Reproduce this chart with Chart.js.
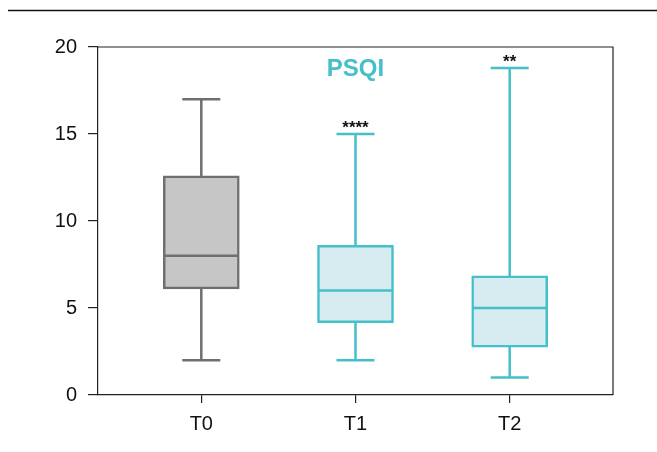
<!DOCTYPE html>
<html>
<head>
<meta charset="utf-8">
<script src="https://cdn.jsdelivr.net/npm/chart.js@4"></script>
<style>
  html, body { margin: 0; padding: 0; background: #fff; }
  canvas { display: block; }
</style>
</head>
<body>
<canvas id="chart" width="657" height="452"></canvas>
<script>
// PSQI scores per time point (box plot, whiskers min..max)
const categories = ['T0', 'T1', 'T2'];
const whiskerLow = [2, 2, 1];
const q1 = [6.1, 4.15, 2.75];
const median = [8, 6, 5];
const q3 = [12.6, 8.6, 6.85];
const whiskerHigh = [17, 15, 18.8];
const significance = ['', '****', '**'];
const yTicks = [0, 5, 10, 15, 20];

const strokeColors = ['#6f6f6f', '#45bfca', '#45bfca'];
const fillColors = ['#c6c6c6', '#d6ecf0', '#d6ecf0'];
const axisColor = '#222';
const fontFamily = '"Liberation Sans", Arial, sans-serif';

const boxPlugin = {
    id: 'boxParts',
    beforeDatasetsDraw(chart) {
        const { ctx, scales: { x, y } } = chart;
        ctx.save();
        ctx.lineWidth = 2.5;
        categories.forEach((c, i) => {
            const px = x.getPixelForValue(i);
            const cap = 19;
            ctx.strokeStyle = strokeColors[i];
            ctx.beginPath();
            ctx.moveTo(px, y.getPixelForValue(whiskerLow[i]));
            ctx.lineTo(px, y.getPixelForValue(whiskerHigh[i]));
            ctx.moveTo(px - cap, y.getPixelForValue(whiskerLow[i]));
            ctx.lineTo(px + cap, y.getPixelForValue(whiskerLow[i]));
            ctx.moveTo(px - cap, y.getPixelForValue(whiskerHigh[i]));
            ctx.lineTo(px + cap, y.getPixelForValue(whiskerHigh[i]));
            ctx.stroke();
        });
        ctx.restore();
    },
    afterDatasetsDraw(chart) {
        const { ctx, chartArea, scales: { x, y } } = chart;
        ctx.save();
        ctx.lineWidth = 2.5;
        categories.forEach((c, i) => {
            const px = x.getPixelForValue(i);
            const half = 37;
            const py = y.getPixelForValue(median[i]);
            ctx.strokeStyle = strokeColors[i];
            ctx.beginPath();
            ctx.moveTo(px - half, py);
            ctx.lineTo(px + half, py);
            ctx.stroke();
            if (significance[i]) {
                ctx.fillStyle = '#111';
                ctx.font = 'bold 17px ' + fontFamily;
                ctx.textAlign = 'center';
                ctx.textBaseline = 'alphabetic';
                ctx.fillText(significance[i], px, y.getPixelForValue(whiskerHigh[i]) - 1);
            }
        });
        // frame top + right
        ctx.strokeStyle = axisColor;
        ctx.lineWidth = 1.2;
        ctx.beginPath();
        ctx.moveTo(chartArea.left, chartArea.top);
        ctx.lineTo(chartArea.right, chartArea.top);
        ctx.lineTo(chartArea.right, chartArea.bottom);
        ctx.stroke();
        // title
        ctx.fillStyle = '#45bfca';
        ctx.font = 'bold 24px ' + fontFamily;
        ctx.textAlign = 'center';
        ctx.textBaseline = 'middle';
        ctx.fillText('PSQI', x.getPixelForValue(1), 69);
        // rule at top of figure
        ctx.strokeStyle = '#111';
        ctx.lineWidth = 1.5;
        ctx.beginPath();
        ctx.moveTo(8, 10.5);
        ctx.lineTo(657, 10.5);
        ctx.stroke();
        ctx.restore();
    }
};

new Chart(document.getElementById('chart').getContext('2d'), {
    type: 'bar',
    data: {
        datasets: [{
            data: categories.map((c, i) => ({ x: i, y: [q1[i], q3[i]] })),
            backgroundColor: fillColors,
            borderColor: strokeColors,
            borderWidth: 2.5,
            borderSkipped: false,
            barThickness: 76
        }]
    },
    options: {
        responsive: false,
        animation: false,
        layout: { padding: { left: 0, top: 47, right: 44, bottom: 17 } },
        plugins: {
            legend: { display: false },
            tooltip: { enabled: false }
        },
        scales: {
            x: {
                type: 'linear',
                offset: false,
                min: -0.67,
                max: 2.67,
                afterBuildTicks: (scale) => {
                    scale.ticks = categories.map((c, i) => ({ value: i }));
                },
                afterFit: (scale) => { scale.height = 40; },
                ticks: {
                    autoSkip: false,
                    maxRotation: 0,
                    padding: 9,
                    color: '#111',
                    font: { family: fontFamily, size: 20 },
                    callback: (value) => categories[value]
                },
                grid: { offset: false, drawOnChartArea: false, tickLength: 8, color: axisColor, lineWidth: 1.2 },
                border: { display: true, color: axisColor, width: 1.2 }
            },
            y: {
                min: 0,
                max: 20,
                afterBuildTicks: (scale) => {
                    scale.ticks = yTicks.map(v => ({ value: v }));
                },
                afterFit: (scale) => { scale.width = 98; },
                ticks: {
                    padding: 11,
                    color: '#111',
                    font: { family: fontFamily, size: 20 }
                },
                grid: { drawOnChartArea: false, tickLength: 10, color: axisColor, lineWidth: 1.2 },
                border: { display: true, color: axisColor, width: 1.2 }
            }
        }
    },
    plugins: [boxPlugin]
});
</script>
</body>
</html>
